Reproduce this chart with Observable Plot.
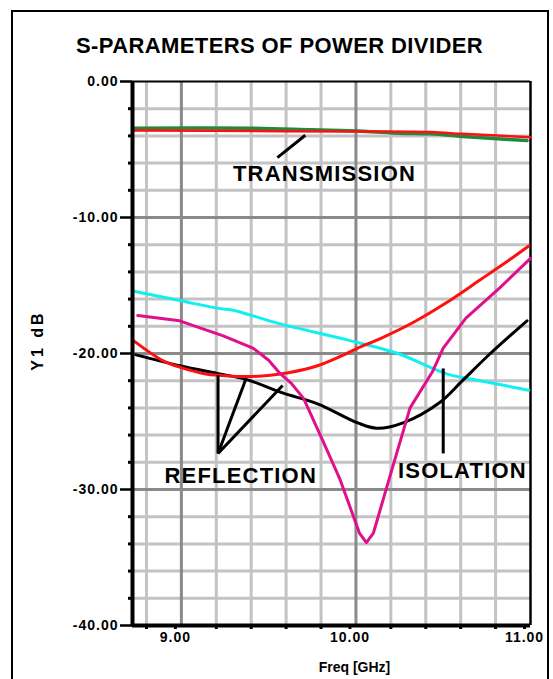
<!DOCTYPE html>
<html>
<head>
<meta charset="utf-8">
<script src="https://cdn.jsdelivr.net/npm/d3@7"></script>
<script src="https://cdn.jsdelivr.net/npm/@observablehq/plot@0.6"></script>
<style>
  html, body { margin: 0; padding: 0; background: #fff; overflow: hidden; }
  #wrap { position: relative; width: 553px; height: 679px; }
  #border { position: absolute; left: 11px; top: 10px; width: 538px; height: 720px; border: 2px solid #000; box-sizing: border-box; }
  #chart { position: absolute; left: 0; top: 0; }
</style>
</head>
<body>
<div id="wrap"><div id="border"></div><div id="chart"></div></div>
<script>
// ---- data ----
const titleText = "S-PARAMETERS OF POWER DIVIDER";
const yLabel = "Y1 dB";
const xLabel = "Freq [GHz]";

const xDomain = [8.72, 11];
const yDomain = [-40, 0];
const xMajorTicks = [9, 10, 11];
const xMinorTicks = [8.8, 9.2, 9.4, 9.6, 9.8, 10.2, 10.4, 10.6, 10.8];
const yMajorTicks = [0, -10, -20, -30, -40];
const yMinorTicks = [-2, -4, -6, -8, -12, -14, -16, -18, -22, -24, -26, -28, -32, -34, -36, -38];

// Transmission (green)
const transGreenF = [8.72, 9.39, 9.75, 10.04, 10.25, 10.43, 10.61, 10.81, 10.98];
const transGreenDb = [-3.43, -3.43, -3.55, -3.65, -3.80, -3.85, -4.04, -4.21, -4.34];
// Transmission (red)
const transRedF = [8.72, 9.56, 10.04, 10.43, 10.61, 10.81, 11.0];
const transRedDb = [-3.60, -3.65, -3.68, -3.72, -3.85, -3.97, -4.10];
// Cyan
const cyanF = [8.72, 8.99, 9.22, 9.29, 9.56, 9.95, 10.24, 10.52, 10.71, 10.99];
const cyanDb = [-15.4, -16.1, -16.7, -16.8, -17.8, -19.0, -20.0, -21.5, -22.0, -22.7];
// Reflection (red)
const reflRedF = [8.72, 8.89, 8.99, 9.14, 9.22, 9.37, 9.51, 9.62, 9.78, 9.93, 10.01, 10.14, 10.33, 10.52, 10.71, 10.87, 10.99];
const reflRedDb = [-19.0, -20.5, -21.0, -21.5, -21.6, -21.7, -21.6, -21.4, -20.9, -20.1, -19.6, -18.9, -17.7, -16.25, -14.6, -13.2, -12.1];
// Reflection (black)
const reflBlackF = [8.74, 8.99, 9.22, 9.37, 9.58, 9.78, 10.01, 10.12, 10.27, 10.48, 10.61, 10.77, 10.98];
const reflBlackDb = [-20.1, -20.9, -21.5, -21.9, -22.9, -23.7, -25.1, -25.5, -25.1, -23.6, -22.0, -20.0, -17.6];
// Isolation (magenta)
const isoF = [8.75, 8.99, 9.24, 9.41, 9.50, 9.56, 9.63, 9.70, 9.81, 9.91, 10.02, 10.06, 10.10, 10.20, 10.31, 10.44, 10.50, 10.63, 10.83, 11.0];
const isoDb = [-17.2, -17.6, -18.7, -19.6, -20.5, -21.4, -22.2, -23.3, -26.4, -29.3, -33.2, -33.9, -33.2, -28.8, -24.0, -21.3, -19.6, -17.4, -15.1, -13.0];

// annotations (data space)
const annLabels = ["TRANSMISSION", "REFLECTION", "ISOLATION"];
const annF = [9.82, 9.34, 10.61];
const annDb = [-6.8, -29.0, -28.6];
const leaderF1 = [9.55, 9.21, 9.21, 9.21, 10.50];
const leaderDb1 = [-5.6, -27.35, -27.35, -27.35, -27.35];
const leaderF2 = [9.71, 9.21, 9.37, 9.58, 10.50];
const leaderDb2 = [-3.95, -21.6, -21.85, -22.35, -21.1];

// ---- build tables ----
const toRows = (fs, ds) => fs.map((f, i) => ({f, db: ds[i]}));
const ann = annLabels.map((t, i) => ({t, f: annF[i], db: annDb[i]}));
const leaders = leaderF1.map((f, i) => ({f1: f, d1: leaderDb1[i], f2: leaderF2[i], d2: leaderDb2[i]}));

const FONT = "Liberation Sans, Arial, sans-serif";
const lineOpts = (color) => ({x: "f", y: "db", stroke: color, strokeWidth: 3, curve: "catmull-rom"});

const chart = Plot.plot({
  width: 553,
  height: 679,
  marginLeft: 132,
  marginRight: 23,
  marginTop: 81,
  marginBottom: 54,
  style: {background: "transparent", fontFamily: FONT},
  x: {domain: xDomain},
  y: {domain: yDomain},
  marks: [
    // grid
    Plot.ruleX(xMinorTicks, {stroke: "#c3c3c3", strokeWidth: 3}),
    Plot.ruleY(yMinorTicks, {stroke: "#c3c3c3", strokeWidth: 3}),
    Plot.ruleX(xMajorTicks.slice(0, 2), {stroke: "#8a8a8a", strokeWidth: 3}),
    Plot.ruleY(yMajorTicks.slice(1, 4), {stroke: "#8a8a8a", strokeWidth: 3}),
    // frame lines
    Plot.ruleY([yDomain[1]], {stroke: "#000", strokeWidth: 2}),
    Plot.ruleX([xDomain[1]], {stroke: "#000", strokeWidth: 2.5}),
    // curves
    Plot.line(toRows(transGreenF, transGreenDb), {...lineOpts("#23883a"), strokeWidth: 3.5}),
    Plot.line(toRows(transRedF, transRedDb), {...lineOpts("#ff1010"), strokeWidth: 2.5}),
    Plot.line(toRows(cyanF, cyanDb), lineOpts("#10f0f0")),
    Plot.line(toRows(reflBlackF, reflBlackDb), lineOpts("#000")),
    Plot.line(toRows(reflRedF, reflRedDb), lineOpts("#ff1010")),
    Plot.line(toRows(isoF, isoDb), {...lineOpts("#e0108c"), curve: "linear"}),
    // leaders
    Plot.link(leaders, {x1: "f1", y1: "d1", x2: "f2", y2: "d2", stroke: "#000", strokeWidth: 3}),
    // annotation texts
    Plot.text(ann, {x: "f", y: "db", text: "t", fontSize: 22, fontWeight: "bold", fill: "#000", fontFamily: FONT}),
    // axes lines
    Plot.ruleX([xDomain[0]], {stroke: "#000", strokeWidth: 4}),
    Plot.ruleY([yDomain[0]], {stroke: "#000", strokeWidth: 4}),
    // axes
    Plot.axisY({ticks: yMinorTicks, tickSize: 4, tickFormat: () => "", strokeWidth: 3, label: null}),
    Plot.axisY({ticks: yMajorTicks, tickSize: 12, tickPadding: 2, tickFormat: d => d.toFixed(2), fontSize: 14, fontWeight: "bold", strokeWidth: 2.5, label: null, fontFamily: FONT}),
    Plot.axisX({ticks: xMinorTicks, tickSize: 4, tickFormat: () => "", strokeWidth: 3, label: null}),
    Plot.axisX({ticks: xMajorTicks, tickSize: 4, tickPadding: 3, tickFormat: d => d.toFixed(2), fontSize: 14, fontWeight: "bold", strokeWidth: 3, label: null, dx: -6, fontFamily: FONT}),
    // titles
    Plot.text([titleText], {frameAnchor: "top", lineAnchor: "middle", textAnchor: "middle", dx: -52, dy: -36, fontSize: 22, fontWeight: "bold", fontFamily: FONT}),
    Plot.text([xLabel], {frameAnchor: "bottom", lineAnchor: "middle", textAnchor: "middle", dx: 23, dy: 42, fontSize: 14, fontWeight: "bold", fontFamily: FONT}),
    Plot.text([yLabel], {frameAnchor: "left", lineAnchor: "middle", textAnchor: "middle", dx: -95, dy: -13, rotate: -90, fontSize: 16, fontWeight: "bold", fontFamily: FONT})
  ]
});

document.getElementById("chart").appendChild(chart);

// letter spacing tweaks
d3.select(chart).selectAll("text").each(function () {
  const t = this.textContent;
  if (t === titleText) this.setAttribute("letter-spacing", "0.4px");
  else if (annLabels.includes(t)) this.setAttribute("letter-spacing", "1.2px");
  else if (t === yLabel) this.setAttribute("letter-spacing", "3px");
  else if (/^-?\d+\.00$/.test(t)) this.setAttribute("letter-spacing", "1px");
});
</script>
</body>
</html>
